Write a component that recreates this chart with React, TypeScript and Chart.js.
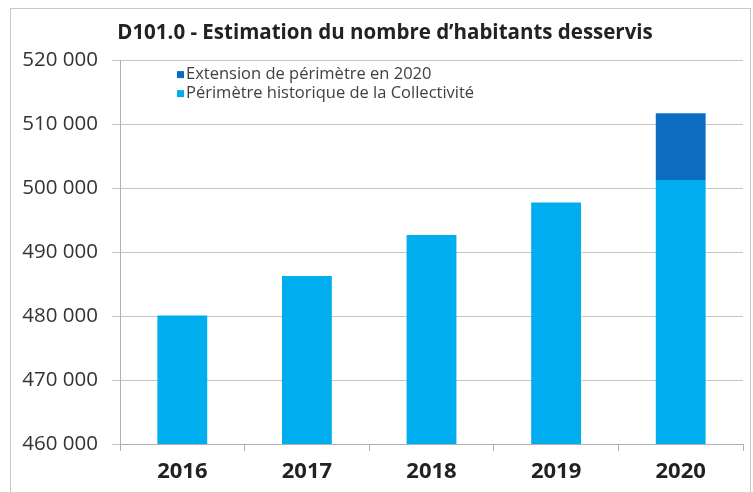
import React, { useEffect, useRef } from "react";
import { Chart, registerables } from "chart.js";

Chart.register(...registerables);

const categories = ["2016", "2017", "2018", "2019", "2020"];
const historicValues = [480100, 486300, 492700, 497800, 501300];
const extensionValues = [null, null, null, null, 10450];
const seriesLabels = ["Périmètre historique de la Collectivité", "Extension de périmètre en 2020"];
const titleText = "D101.0 - Estimation du nombre d’habitants desservis";
const yMin = 460000;
const yMax = 520000;
const yStep = 10000;

const fmt = (v: number) => Math.round(v).toString().replace(/\B(?=(\d{3})+(?!\d))/g, " ");

const frameAndLegend = {
  id: "frameAndLegend",
  beforeDraw(chart: any) {
    const ctx = chart.ctx;
    ctx.save();
    ctx.fillStyle = "#ffffff";
    ctx.fillRect(0, 0, chart.width, chart.height);
    ctx.strokeStyle = "#C8C8C8";
    ctx.lineWidth = 1;
    ctx.strokeRect(10.5, 8.5, 740, 500);
    ctx.restore();
  },
  afterDraw(chart: any) {
    const ctx = chart.ctx;
    const area = chart.chartArea;
    const ds = chart.data.datasets.slice().reverse();
    ctx.save();
    ctx.font = "16.5px 'Open Sans'";
    ctx.textBaseline = "middle";
    ds.forEach((d: any, i: number) => {
      const y = area.top + 14 + i * 19;
      const x = area.left + 57;
      ctx.fillStyle = d.backgroundColor;
      ctx.fillRect(x, y - 3.5, 7, 7);
      ctx.fillStyle = "#404040";
      ctx.fillText(d.label, x + 9, y);
    });
    ctx.restore();
  },
};

export default function App() {
  const ref = useRef<HTMLCanvasElement>(null);
  useEffect(() => {
    if (!ref.current) return;
    const chart = new Chart(ref.current, {
      type: "bar",
      data: {
        labels: categories,
        datasets: [
          {
            label: seriesLabels[0],
            data: historicValues,
            backgroundColor: "#00AEEF",
            categoryPercentage: 1,
            barPercentage: 0.4,
          },
          {
            label: seriesLabels[1],
            data: extensionValues as any,
            backgroundColor: "#0C6DC0",
            categoryPercentage: 1,
            barPercentage: 0.4,
          },
        ],
      },
      options: {
        responsive: false,
        animation: false,
        layout: { padding: { left: 12, right: 10, top: 0, bottom: 0 } },
        plugins: {
          legend: { display: false },
          tooltip: { enabled: false },
          title: {
            display: true,
            text: titleText,
            color: "#222222",
            font: { family: "'Open Sans'", size: 20.5, weight: "bold", lineHeight: 1.2 },
            padding: { top: 21, bottom: 15 },
          },
        },
        scales: {
          x: {
            stacked: true,
            grid: { drawOnChartArea: false, drawTicks: true, tickLength: 7, color: "#B0B0B0" },
            border: { color: "#B0B0B0" },
            ticks: {
              color: "#222222",
              font: { family: "'Open Sans'", size: 22, weight: "bold" },
              padding: 8,
            },
            afterFit(scale: any) {
              scale.height = 48;
            },
          },
          y: {
            stacked: true,
            min: yMin,
            max: yMax,
            grid: { color: "#C4C4C4", tickLength: 8 },
            border: { color: "#B0B0B0" },
            ticks: {
              stepSize: yStep,
              color: "#333333",
              font: { family: "'Open Sans'", size: 20.5 },
              padding: 14,
              callback: (v: any) => fmt(Number(v)),
            },
            afterFit(scale: any) {
              scale.width = 108;
            },
          },
        },
      },
      plugins: [
        frameAndLegend,
        {
          id: "titleShift",
          afterLayout(chart: any) {
            const t = chart.titleBlock;
            if (t) {
              t.left = 27;
              t.right = 743;
            }
          },
        },
      ],
    });
    return () => chart.destroy();
  }, []);
  return (
    <div style={{ position: "fixed", left: 0, top: 0, width: 753, height: 492, background: "#fff" }}>
      <canvas ref={ref} width={753} height={492} style={{ width: 753, height: 492, display: "block" }} />
    </div>
  );
}
